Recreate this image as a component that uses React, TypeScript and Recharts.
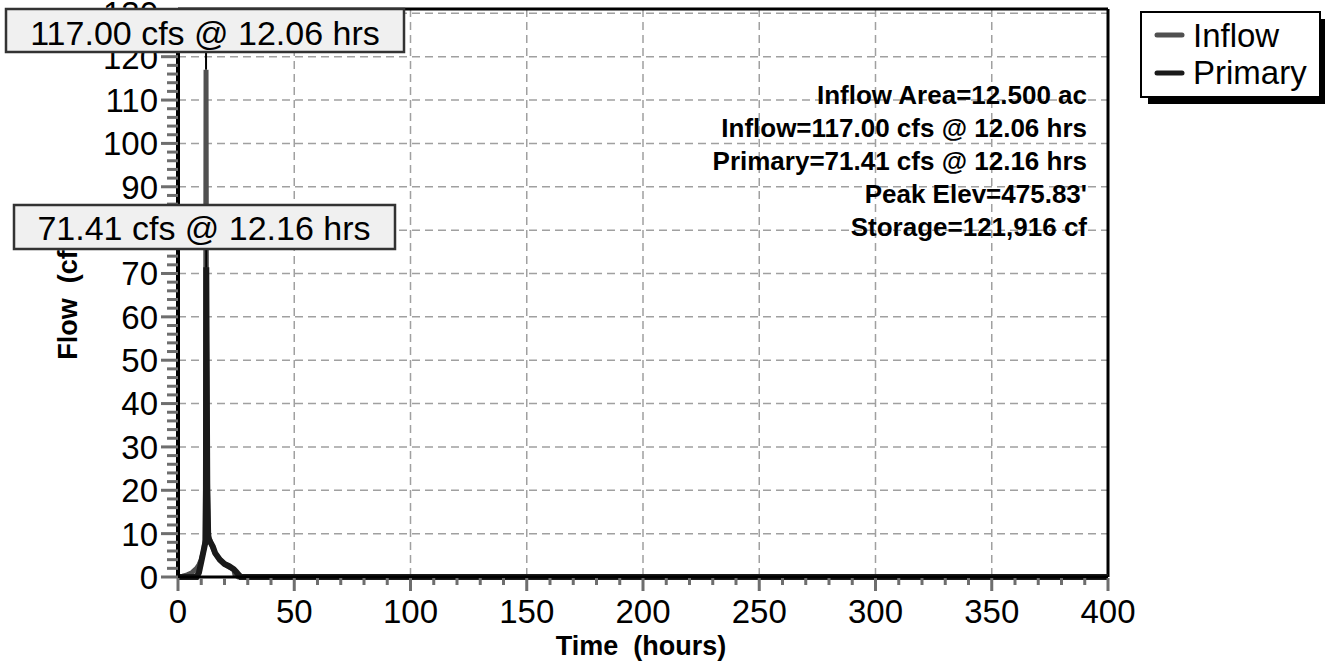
import { ComposedChart, Line, XAxis, YAxis, CartesianGrid, ReferenceLine } from 'recharts'

// hydrograph: time (hours) vs flow (cfs)
const inflowHours = [0, 2, 4, 6, 8, 9, 10, 11, 11.5, 11.8, 11.95, 12.06, 12.15, 12.25, 12.4, 12.6, 13, 14, 16, 18, 20, 22, 24, 24.5, 26, 400]
const inflowCfs = [0, 0.2, 0.5, 1, 2, 2.8, 4, 6, 8, 20, 75, 117, 90, 55, 45, 25, 10, 8, 5.5, 4, 3, 2.3, 1.8, 0.5, 0, 0]

const primaryHours = [0, 8, 9, 10, 11, 11.6, 12.0, 12.1, 12.16, 12.25, 12.4, 12.6, 13, 14, 15, 16, 18, 20, 22, 24, 25, 26, 27, 400]
const primaryCfs = [0, 0, 1, 3.5, 6, 7.5, 8.5, 50, 71.41, 60, 42, 20, 9, 8, 7, 5.5, 4, 3, 2.5, 1.8, 1.2, 0.6, 0, 0]

const xTicks = Array.from({ length: 41 }, (_, i) => i * 10)
const yTicks = Array.from({ length: 66 }, (_, i) => i * 2)
const xGrid = [50, 100, 150, 200, 250, 300, 350, 400]
const yGrid = [0, 10, 20, 30, 40, 50, 60, 70, 80, 90, 100, 110, 120, 130]

const inflowPeak = { hours: 12.06, cfs: 117 }
const primaryPeak = { hours: 12.16, cfs: 71.41 }

const notes = [
  'Inflow Area=12.500 ac',
  'Inflow=117.00 cfs @ 12.06 hrs',
  'Primary=71.41 cfs @ 12.16 hrs',
  "Peak Elev=475.83'",
  'Storage=121,916 cf',
]

const FONT = '"Liberation Sans", Arial, Helvetica, sans-serif'
const TICK_COLOR = '#6e6e6e'

const inflowData = inflowHours.map((h, i) => ({ hours: h, cfs: inflowCfs[i] }))
const primaryData = primaryHours.map((h, i) => ({ hours: h, cfs: primaryCfs[i] }))

function XTick({ x, y, payload }: any) {
  const v = payload.value
  const major = v % 50 === 0
  return (
    <g>
      <rect x={x - 1.5} y={y + 1} width={3} height={major ? 13 : 7} fill={TICK_COLOR} />
      {major && (
        <text x={x} y={y + 46} textAnchor="middle" fontSize={33} fontFamily={FONT} fill="#000">
          {v}
        </text>
      )}
    </g>
  )
}

function YTick({ x, y, payload }: any) {
  const v = payload.value
  const major = v % 10 === 0
  return (
    <g>
      <rect x={x - (major ? 17 : 11)} y={y - 1.5} width={major ? 17 : 11} height={3} fill={TICK_COLOR} />
      {major && (
        <text x={x - 20} y={y} dy="0.36em" textAnchor="end" fontSize={33} fontFamily={FONT} fill="#000">
          {v}
        </text>
      )}
    </g>
  )
}

export default function App() {
  return (
    <div style={{ position: 'absolute', left: 0, top: 0, width: 1325, height: 666 }}>
      <ComposedChart width={1325} height={666} margin={{ top: 9, right: 217, left: 0, bottom: 0 }}>
        <CartesianGrid
          strokeDasharray="8 5"
          stroke="#a0a0a0"
          strokeWidth={1.5}
          horizontalValues={yGrid}
          verticalValues={xGrid}
        />
        <XAxis
          dataKey="hours"
          type="number"
          domain={[0, 400]}
          ticks={xTicks}
          interval={0}
          tick={<XTick />}
          tickLine={false}
          tickSize={0}
          tickMargin={0}
          height={89}
          axisLine={{ stroke: '#000', strokeWidth: 3 }}
        />
        <YAxis
          type="number"
          domain={[0, 131]}
          ticks={yTicks}
          interval={0}
          tick={<YTick />}
          tickLine={false}
          tickSize={0}
          tickMargin={0}
          width={178}
          axisLine={{ stroke: '#000', strokeWidth: 4 }}
        />
        <ReferenceLine y={131} stroke="#000" strokeWidth={3} />
        <ReferenceLine x={400} stroke="#000" strokeWidth={3} />
        <Line
          data={inflowData}
          dataKey="cfs"
          type="linear"
          stroke="#505050"
          strokeWidth={5}
          dot={false}
          isAnimationActive={false}
          name="Inflow"
        />
        <Line
          data={primaryData}
          dataKey="cfs"
          type="linear"
          stroke="#1a1a1a"
          strokeWidth={6}
          dot={false}
          isAnimationActive={false}
          name="Primary"
        />
        <ReferenceLine
          segment={[{ x: inflowPeak.hours, y: inflowPeak.cfs }, { x: inflowPeak.hours, y: 121.2 }]}
          stroke="#000"
          strokeWidth={2}
        />
        <ReferenceLine
          segment={[{ x: primaryPeak.hours, y: primaryPeak.cfs }, { x: primaryPeak.hours, y: 75.7 }]}
          stroke="#000"
          strokeWidth={2}
        />
      </ComposedChart>

      <svg
        width={1325}
        height={666}
        style={{ position: 'absolute', left: 0, top: 0, pointerEvents: 'none' }}
        fontFamily={FONT}
      >
        <text x={641} y={655} textAnchor="middle" fontSize={27} fontWeight="bold">
          Time{'\u00a0\u00a0'}(hours)
        </text>
        <text transform="translate(77,293) rotate(-90)" textAnchor="middle" fontSize={27} fontWeight="bold">
          Flow{'\u00a0\u00a0'}(cfs)
        </text>

        {notes.map((n, i) => (
          <text key={n} x={1087} y={104 + i * 33} textAnchor="end" fontSize={26} fontWeight="bold">
            {n}
          </text>
        ))}

        <rect x={6} y={9} width={398} height={43} fill="#f0f0f0" stroke="#333" strokeWidth={2.5} />
        <text x={205} y={45} textAnchor="middle" fontSize={34}>
          117.00 cfs @ 12.06 hrs
        </text>
        <rect x={14} y={205} width={381} height={44} fill="#f0f0f0" stroke="#333" strokeWidth={2.5} />
        <text x={204} y={240} textAnchor="middle" fontSize={34}>
          71.41 cfs @ 12.16 hrs
        </text>

        <rect x={1148} y={19} width={179} height={85} fill="#000" />
        <rect x={1141} y={12} width={179} height={85} fill="#fff" stroke="#000" strokeWidth={2} />
        <line x1={1157} x2={1182} y1={35} y2={35} stroke="#505050" strokeWidth={5} strokeLinecap="round" />
        <text x={1193} y={47} fontSize={33}>Inflow</text>
        <line x1={1157} x2={1182} y1={73} y2={73} stroke="#1a1a1a" strokeWidth={5} strokeLinecap="round" />
        <text x={1193} y={84} fontSize={33}>Primary</text>
      </svg>
    </div>
  )
}
